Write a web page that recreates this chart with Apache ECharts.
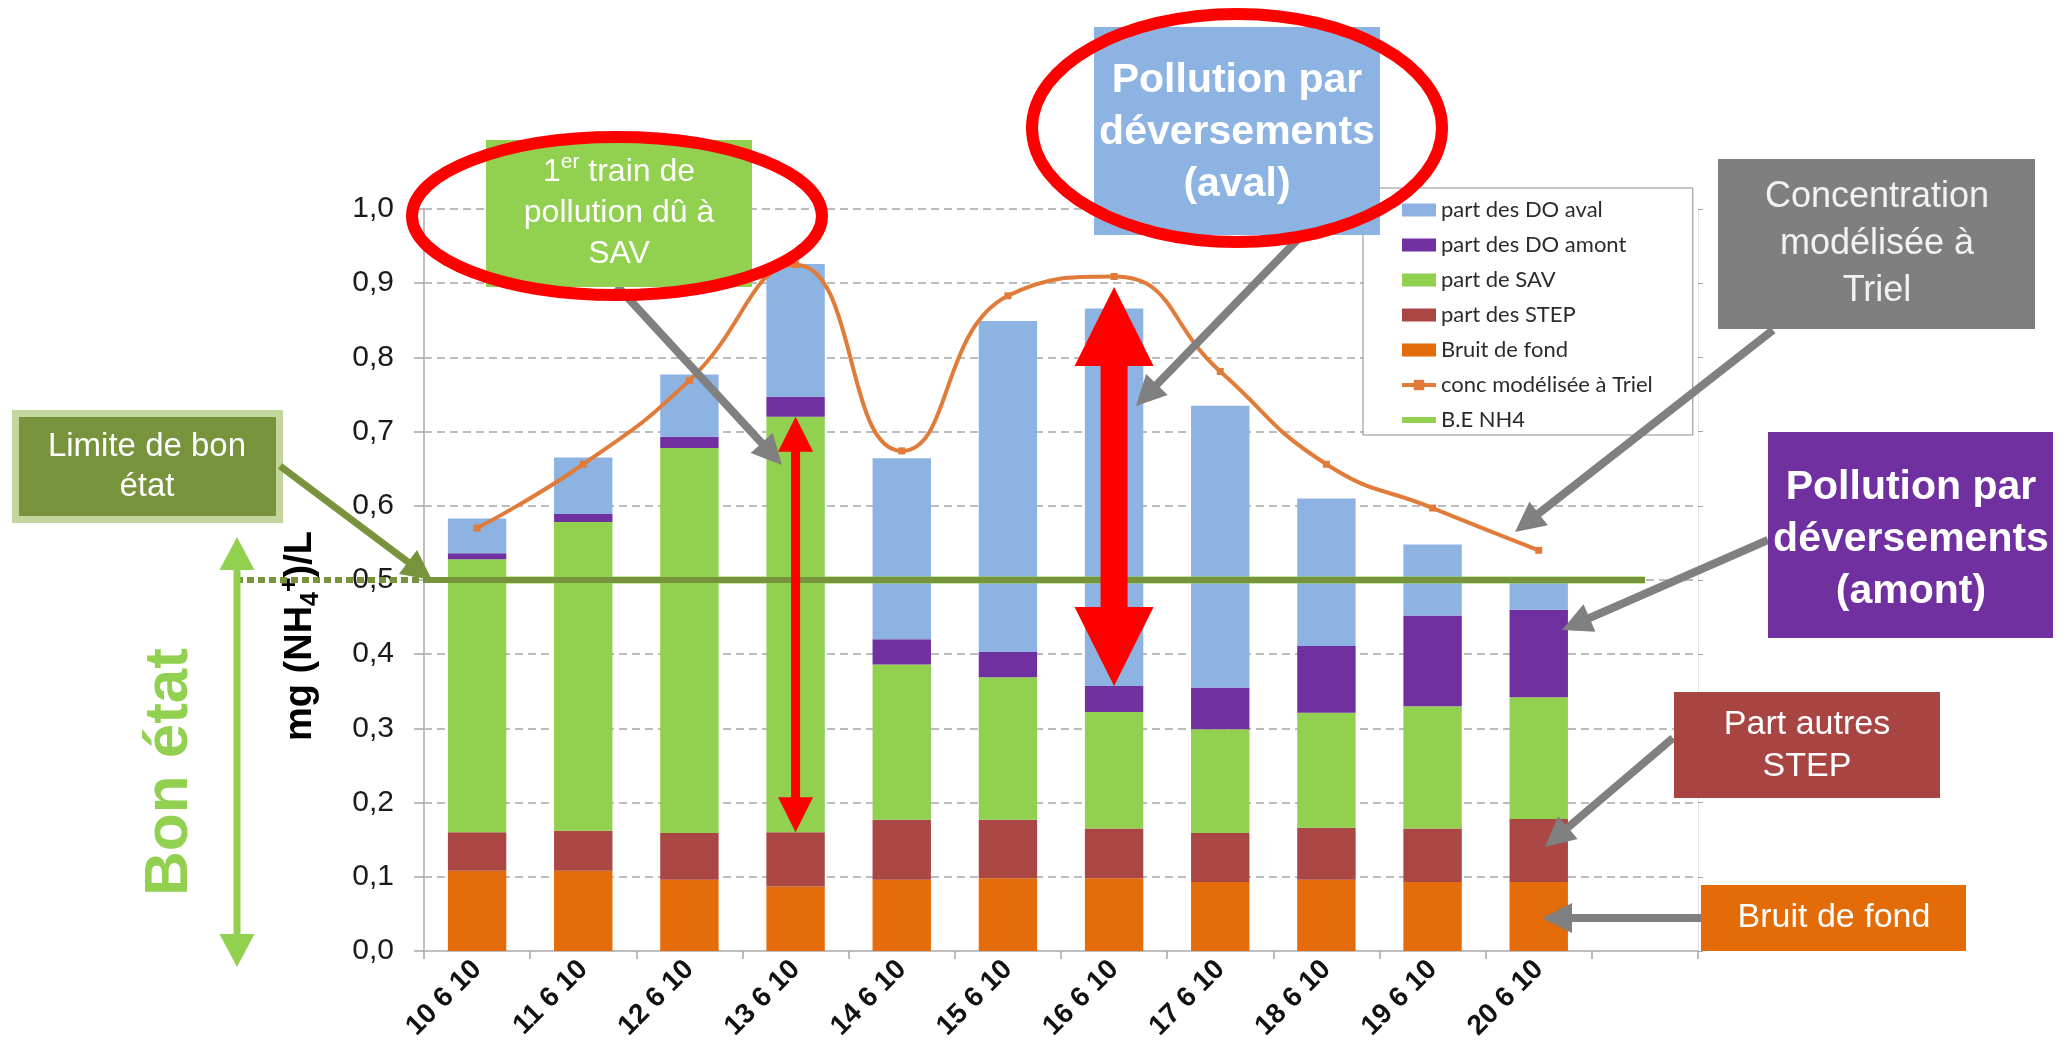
<!DOCTYPE html>
<html>
<head>
<meta charset="utf-8">
<script src="https://cdn.jsdelivr.net/npm/echarts@6/dist/echarts.min.js"></script>
<style>
  html, body { margin: 0; padding: 0; background: #fff; }
  #chart { width: 2072px; height: 1055px; }
</style>
</head>
<body>
<div id="chart"></div>
<script>
// Ammonium contributions at Triel, 10-20 June 2010 (mg NH4+/L)
const categories = ['10 6 10', '11 6 10', '12 6 10', '13 6 10', '14 6 10', '15 6 10',
                    '16 6 10', '17 6 10', '18 6 10', '19 6 10', '20 6 10', ''];
const bruitDeFond = [0.108, 0.108, 0.096, 0.087, 0.096, 0.098, 0.098, 0.093, 0.096, 0.093, 0.093];
const partSTEP    = [0.052, 0.054, 0.063, 0.073, 0.081, 0.079, 0.067, 0.066, 0.070, 0.072, 0.085];
const partSAV     = [0.368, 0.416, 0.519, 0.560, 0.209, 0.192, 0.157, 0.140, 0.155, 0.165, 0.164];
const partDOamont = [0.008, 0.011, 0.015, 0.027, 0.034, 0.034, 0.035, 0.056, 0.090, 0.122, 0.118];
const partDOaval  = [0.047, 0.076, 0.084, 0.179, 0.244, 0.446, 0.509, 0.380, 0.199, 0.096, 0.038];
const concTriel   = [0.570, 0.656, 0.769, 0.925, 0.674, 0.883, 0.909, 0.781, 0.656, 0.597, 0.540];
const beNH4       = [0.5, 0.5, 0.5, 0.5, 0.5, 0.5, 0.5, 0.5, 0.5, 0.5, 0.5, 0.5];

const C = {
  aval: '#8DB3E2', amont: '#7030A0', sav: '#92D050', step: '#AA4643',
  bruit: '#E46C0A', conc: '#E07B39', be: '#92D050', olive: '#77933C',
  gray: '#808080', red: '#FF0000'
};

const chart = echarts.init(document.getElementById('chart'), null, { renderer: 'canvas' });

const barSeries = (name, data, color) => ({
  name, type: 'bar', stack: 'total', data, barWidth: '55%',
  itemStyle: { color }, emphasis: { disabled: true }
});

chart.setOption({
  animation: false,
  backgroundColor: '#ffffff',
  grid: { left: 424, right: 374, top: 209, bottom: 104 },
  legend: {
    orient: 'vertical', left: 1363, top: 188,
    itemWidth: 34, itemHeight: 13, itemGap: 13,
    padding: [11, 40, 4, 36],
    borderColor: '#8c8c8c', borderWidth: 1, backgroundColor: '#ffffff',
    selectedMode: false,
    textStyle: { fontFamily: 'Lato', fontSize: 22, color: '#2b2b2b', lineHeight: 22 },
    data: [
      { name: 'part des DO aval', icon: 'rect' },
      { name: 'part des DO amont', icon: 'rect' },
      { name: 'part de SAV', icon: 'rect' },
      { name: 'part des STEP', icon: 'rect' },
      { name: 'Bruit de fond', icon: 'rect' },
      { name: 'conc modélisée à Triel', lineStyle: { width: 4 } },
      { name: 'B.E NH4', itemStyle: { color: 'rgba(0,0,0,0)', borderWidth: 0 }, lineStyle: { width: 6 } }
    ]
  },
  xAxis: {
    type: 'category', data: categories, boundaryGap: true,
    axisLine: { lineStyle: { color: '#BFBFBF', width: 2 } },
    axisTick: { show: true, interval: 0, length: 8, lineStyle: { color: '#A6A6A6', width: 1.5 } },
    axisLabel: {
      interval: 0, rotate: 45, margin: 14,
      fontFamily: 'Liberation Sans', fontWeight: 'bold', fontSize: 28, color: '#111'
    }
  },
  yAxis: [{
    type: 'value', min: 0, max: 1, interval: 0.1,
    axisLine: { show: true, lineStyle: { color: '#BFBFBF', width: 2 } },
    axisTick: { show: true, length: 10, lineStyle: { color: '#A6A6A6', width: 1.5 } },
    axisLabel: {
      margin: 30, fontFamily: 'Liberation Sans', fontSize: 30, color: '#1a1a1a',
      formatter: v => v.toFixed(1).replace('.', ',')
    },
    splitLine: { show: true, lineStyle: { color: '#A6A6A6', width: 1.5, type: [8, 5] } }
  }, {
    type: 'value', min: 0, max: 1, interval: 0.1, position: 'right',
    axisLine: { show: true, lineStyle: { color: '#E6E6E6', width: 1 } },
    axisTick: { show: true, length: 5, lineStyle: { color: '#A6A6A6' } },
    axisLabel: { show: false }, splitLine: { show: false }
  }],
  series: [
    barSeries('Bruit de fond', bruitDeFond, C.bruit),
    barSeries('part des STEP', partSTEP, C.step),
    barSeries('part de SAV', partSAV, C.sav),
    barSeries('part des DO amont', partDOamont, C.amont),
    barSeries('part des DO aval', partDOaval, C.aval),
    {
      name: 'conc modélisée à Triel', type: 'line', data: concTriel, smooth: 0.5,
      symbol: 'rect', symbolSize: 7, itemStyle: { color: C.conc },
      lineStyle: { color: C.conc, width: 4 }, emphasis: { disabled: true }, z: 4
    },
    {
      name: 'B.E NH4', type: 'line', data: beNH4, symbol: 'none',
      itemStyle: { color: C.be }, lineStyle: { color: C.be, width: 7 },
      emphasis: { disabled: true }, z: 3
    }
  ]
});

// ---- callouts and annotations ----
function arrow(x1, y1, x2, y2, sw, hw, hl, both, color, z) {
  const dx = x2 - x1, dy = y2 - y1, L = Math.hypot(dx, dy);
  const ux = dx / L, uy = dy / L, nx = -uy, ny = ux;
  const P = (a, b) => [x1 + ux * a + nx * b, y1 + uy * a + ny * b];
  const pts = both
    ? [P(0, 0), P(hl, hw / 2), P(hl, sw / 2), P(L - hl, sw / 2), P(L - hl, hw / 2), P(L, 0),
       P(L - hl, -hw / 2), P(L - hl, -sw / 2), P(hl, -sw / 2), P(hl, -hw / 2)]
    : [P(0, sw / 2), P(L - hl, sw / 2), P(L - hl, hw / 2), P(L, 0),
       P(L - hl, -hw / 2), P(L - hl, -sw / 2), P(0, -sw / 2)];
  return { type: 'polygon', z, silent: true, shape: { points: pts }, style: { fill: color } };
}
function box(x1, y1, x2, y2, fill, z) {
  return { type: 'rect', z, silent: true, shape: { x: x1, y: y1, width: x2 - x1, height: y2 - y1 }, style: { fill } };
}
function label(x, y, text, size, lh, weight, extra) {
  return {
    type: 'text', z: 120, silent: true, x, y,
    style: Object.assign({
      text, fill: '#ffffff', fontFamily: 'Liberation Sans', fontSize: size,
      fontWeight: weight || 'normal', lineHeight: lh, align: 'center', verticalAlign: 'middle'
    }, extra || {})
  };
}
function ring(cx, cy, rx, ry, z) {
  return { type: 'ellipse', z, silent: true, shape: { cx, cy, rx, ry },
           style: { fill: null, stroke: C.red, lineWidth: 12 } };
}

const px = (i, v) => chart.convertToPixel({ xAxisIndex: 0, yAxisIndex: 0 }, [i, v]);
const yHalf = px(0, 0.5)[1];
const band = px(1, 0)[0] - px(0, 0)[0];
const axisLeft = px(0, 0)[0] - band / 2;
const xLast = px(categories.length - 1, 0.5)[0];

// stacked top of each layer for a given day
const topSTEP = i => bruitDeFond[i] + partSTEP[i];
const topSAV = i => topSTEP(i) + partSAV[i];
const topAmont = i => topSAV(i) + partDOamont[i];

const iSAV = 3, iAval = 6;
const a1Top = px(iSAV, topSAV(iSAV)), a1Bot = px(iSAV, topSTEP(iSAV));
const a2Top = px(iAval, 0.895), a2Bot = px(iAval, topAmont(iAval));

const sup = { fontFamily: 'Liberation Sans', fontSize: 21, fill: '#fff', verticalAlign: 'top', lineHeight: 22, padding: [0, 0, 14, 0] };
const norm = { fontFamily: 'Liberation Sans', fontSize: 32, fill: '#fff', lineHeight: 41 };
const unitBase = { fontFamily: 'Liberation Sans', fontWeight: 'bold', fontSize: 38, fill: '#000', lineHeight: 46 };
const unitSub = { fontFamily: 'Liberation Sans', fontWeight: 'bold', fontSize: 25, fill: '#000', lineHeight: 25, verticalAlign: 'bottom' };
const unitSup = { fontFamily: 'Liberation Sans', fontWeight: 'bold', fontSize: 25, fill: '#000', lineHeight: 25, verticalAlign: 'top' };

chart.setOption({
  graphic: [
    // unit of the value axis
    { type: 'text', z: 120, silent: true, x: 301, y: 636, rotation: Math.PI / 2,
      style: { text: '{b|mg (NH}{d|4}{u|+}{b|)/L}', align: 'center', verticalAlign: 'middle',
               rich: { b: unitBase, d: unitSub, u: unitSup } } },

    // limite de bon état line over the chart, plus its dotted extension
    { type: 'line', z: 95, silent: true, shape: { x1: axisLeft, y1: yHalf, x2: xLast, y2: yHalf },
      style: { stroke: C.olive, lineWidth: 6 } },
    { type: 'line', z: 95, silent: true, shape: { x1: 236, y1: yHalf, x2: axisLeft, y2: yHalf },
      style: { stroke: C.olive, lineWidth: 6, lineDash: [7, 4] } },

    // Limite de bon état
    box(12, 410, 283, 523, '#C3D69B', 100),
    box(19, 417, 276, 516, C.olive, 101),
    label(147, 467, 'Limite de bon\nétat', 33, 40),
    arrow(280, 466, 432, yHalf, 7, 30, 30, false, C.olive, 102),

    // Bon état
    arrow(237, 537, 237, 967, 7, 35, 33, true, C.sav, 100),
    { type: 'text', z: 120, silent: true, x: 170, y: 772, rotation: Math.PI / 2,
      style: { text: 'Bon état', fill: C.sav, fontFamily: 'Liberation Sans', fontWeight: 'bold',
               fontSize: 62, align: 'center', verticalAlign: 'middle' } },

    // 1er train de pollution dû à SAV
    arrow(617, 286, 782, 465, 8, 30, 30, false, C.gray, 99),
    box(486, 140, 752, 287, C.sav, 100),
    { type: 'text', z: 120, silent: true, x: 619, y: 213,
      style: { text: '{n|1}{s|er}{n| train de}\n{n|pollution dû à}\n{n|SAV}', align: 'center',
               verticalAlign: 'middle', fill: '#fff', rich: { n: norm, s: sup } } },
    ring(617, 216, 205, 79, 130),
    // red span: SAV share on 13 6 10
    arrow(a1Top[0], a1Top[1], a1Bot[0], a1Bot[1], 9, 35, 35, true, C.red, 110),

    // Pollution par déversements (aval)
    arrow(1305, 232, 1136, 406, 8, 30, 30, false, C.gray, 99),
    box(1094, 27, 1380, 235, C.aval, 100),
    label(1237, 133, 'Pollution par\ndéversements\n(aval)', 41, 52, 'bold'),
    ring(1237, 128, 205, 114, 130),
    arrow(a2Top[0], a2Top[1], a2Bot[0], a2Bot[1], 27, 79, 79, true, C.red, 110),

    // Concentration modélisée à Triel
    box(1718, 159, 2035, 329, '#7F7F7F', 100),
    label(1877, 244, 'Concentration\nmodélisée à\nTriel', 36, 47, 'normal', { fill: '#F2F2F2' }),
    arrow(1773, 330, 1515, 532, 8, 30, 30, false, C.gray, 99),

    // Pollution par déversements (amont)
    box(1768, 432, 2053, 638, C.amont, 100),
    label(1911, 540, 'Pollution par\ndéversements\n(amont)', 41, 52, 'bold'),
    arrow(1768, 540, 1562, 630, 8, 30, 30, false, C.gray, 99),

    // Part autres STEP
    box(1674, 692, 1940, 798, '#A84442', 100),
    label(1807, 746, 'Part autres\nSTEP', 34, 42),
    arrow(1673, 738, 1545, 847, 8, 30, 30, false, C.gray, 99),

    // Bruit de fond
    box(1701, 885, 1966, 951, '#E36C09', 100),
    label(1834, 918, 'Bruit de fond', 34, 40),
    arrow(1702, 918, 1542, 918, 8, 30, 30, false, C.gray, 99)
  ]
});
</script>
</body>
</html>
